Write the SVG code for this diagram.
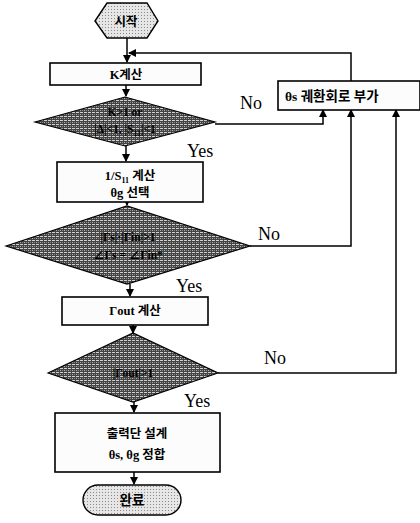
<svg xmlns="http://www.w3.org/2000/svg" width="420" height="523" viewBox="0 0 420 523">
<style>
.box{fill:#fcfcfc;stroke:#000;stroke-width:1.6}
.dia{fill:url(#dark);stroke:#000;stroke-width:1.2}
.term{fill:url(#light);stroke:#000;stroke-width:1.4}
.ln{fill:none;stroke:#000;stroke-width:1.5}
.kt{font-family:"Liberation Serif","Noto Sans CJK KR",serif;font-weight:bold;font-size:12.5px;fill:#000;text-anchor:middle}
.dt{font-family:"Liberation Serif","Noto Sans CJK KR",serif;font-weight:bold;font-size:11.5px;fill:#000;text-anchor:middle}
.yn{font-family:"Liberation Serif",serif;font-size:18px;fill:#000}
</style>
<defs>
<pattern id="dark" width="4" height="4" patternUnits="userSpaceOnUse">
<rect width="4" height="4" fill="#444"/>
<rect x="0" y="0" width="3" height="1" fill="#d0d0d0"/>
<rect x="0" y="2" width="1" height="1" fill="#b0b0b0"/>
<rect x="2" y="2" width="1" height="1" fill="#888"/>
</pattern>
<pattern id="light" width="3" height="3" patternUnits="userSpaceOnUse">
<rect width="3" height="3" fill="#e6e6e6"/>
<rect x="0" y="0" width="1" height="1" fill="#8a8a8a"/>
</pattern>
<marker id="ar" markerWidth="8" markerHeight="8" refX="7" refY="4" orient="auto" markerUnits="userSpaceOnUse">
<path d="M0,0 L8,4 L0,8 Z" fill="#000"/>
</marker>
</defs>

<g id="connectors">
<line class="ln" x1="127" y1="38" x2="127" y2="62" marker-end="url(#ar)"/>
<polyline class="ln" points="351,81 351,53 129,53" marker-end="url(#ar)"/>
<line class="ln" x1="126" y1="85" x2="126" y2="96" marker-end="url(#ar)"/>
<line class="ln" x1="126" y1="146" x2="126" y2="161" marker-end="url(#ar)"/>
<polyline class="ln" points="215,124 323,124 323,110" marker-end="url(#ar)"/>
<line class="ln" x1="127" y1="202" x2="127" y2="205" marker-end="url(#ar)"/>
<polyline class="ln" points="250,246 351,246 351,110" marker-end="url(#ar)"/>
<line class="ln" x1="130" y1="284" x2="130" y2="296" marker-end="url(#ar)"/>
<line class="ln" x1="133" y1="325" x2="133" y2="333" marker-end="url(#ar)"/>
<polyline class="ln" points="218,373 396,373 396,110" marker-end="url(#ar)"/>
<line class="ln" x1="134" y1="402" x2="134" y2="412" marker-end="url(#ar)"/>
<line class="ln" x1="134" y1="472" x2="134" y2="484" marker-end="url(#ar)"/>
</g>

<g id="start">
<polygon class="term" points="95,21 107,3 147,3 158,21 147,38 107,38"/>
<text class="kt" x="126" y="26" font-size="13.5">시작</text>
</g>

<g id="k_calc">
<rect class="box" x="50" y="63" width="151" height="22"/>
<text class="kt" x="126" y="79">K계산</text>
</g>

<g id="cond1">
<polygon class="dia" points="35,122 125,97 215,122 125,146"/>
<text class="dt" x="125" y="116">K&gt;1 or</text>
<text class="dt" x="125" y="133">|Δ|&lt;1, |S<tspan font-size="8" dy="3">11</tspan><tspan dy="-3">|&lt;1</tspan></text>
<text class="yn" x="187" y="157">Yes</text>
<text class="yn" x="240" y="109">No</text>
</g>

<g id="feedback">
<rect class="box" x="278" y="81" width="142" height="29"/>
<text class="kt" x="285" y="101" style="text-anchor:start;font-size:13.5px">θs 궤환회로  부가</text>
</g>

<g id="s11_calc">
<rect class="box" x="57" y="162" width="146" height="40"/>
<text class="kt" x="130" y="180">1/S<tspan font-size="8" dy="3">11</tspan><tspan dy="-3"> 계산</tspan></text>
<text class="kt" x="130" y="197">θg 선택</text>
</g>

<g id="cond2">
<polygon class="dia" points="6,246 127,206 250,246 127,284"/>
<text class="dt" x="128" y="241">|Γs|·|Γin|&gt;1</text>
<text class="dt" x="128" y="259">∠Γs = ∠Γin*</text>
<text class="yn" x="176" y="292">Yes</text>
<text class="yn" x="258" y="240">No</text>
</g>

<g id="gout_calc">
<rect class="box" x="62" y="297" width="146" height="28"/>
<text class="kt" x="135" y="315">Γout 계산</text>
</g>

<g id="cond3">
<polygon class="dia" points="48,373 133,333 218,373 133,402"/>
<text class="dt" x="133" y="377">|Γout|&gt;1</text>
<text class="yn" x="184" y="407">Yes</text>
<text class="yn" x="264" y="364">No</text>
</g>

<g id="output_design">
<rect class="box" x="55" y="413" width="165" height="59"/>
<text class="kt" x="137" y="438">출력단 설계</text>
<text class="kt" x="137" y="459">θs, θg 정합</text>
</g>

<g id="end">
<rect class="term" x="83" y="485" width="98" height="30" rx="15" ry="15"/>
<text class="kt" x="132" y="505" style="font-size:13.5px">완료</text>
</g>
</svg>
